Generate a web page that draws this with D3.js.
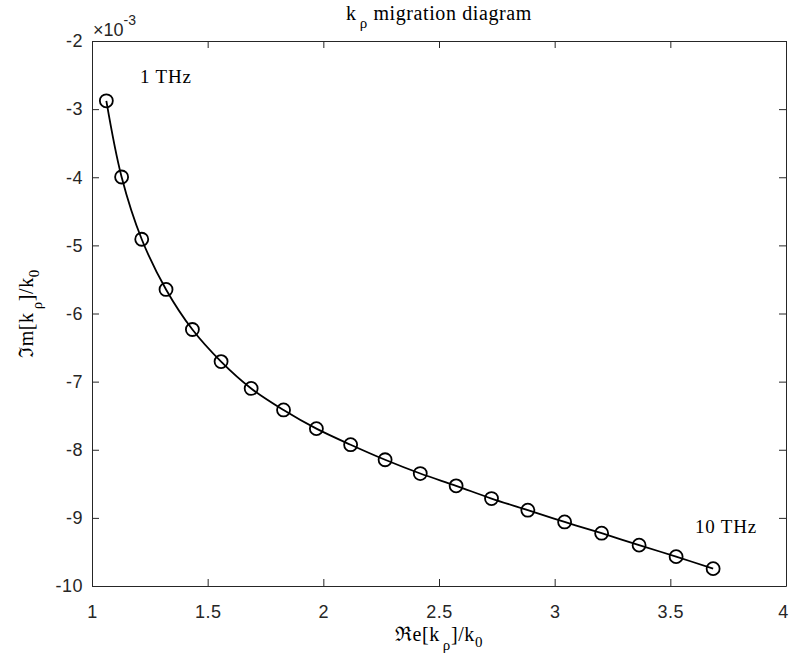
<!DOCTYPE html>
<html>
<head>
<meta charset="utf-8">
<script src="https://cdn.jsdelivr.net/npm/d3@7"></script>
<style>
  html, body { margin: 0; padding: 0; background: #fff; }
  svg { display: block; }
</style>
</head>
<body>
<div id="chart"></div>
<script>
// Re[k_rho]/k0 and Im[k_rho]/k0 (in units of 1e-3), 1 THz .. 10 THz
const reK = [1.062, 1.128, 1.215, 1.320, 1.434, 1.558, 1.688, 1.828, 1.970, 2.118,
             2.267, 2.419, 2.574, 2.727, 2.884, 3.043, 3.203, 3.365, 3.525, 3.685];
const imK = [-2.878, -3.996, -4.910, -5.647, -6.235, -6.706, -7.100, -7.416, -7.690, -7.926,
             -8.147, -8.349, -8.530, -8.716, -8.887, -9.060, -9.225, -9.400, -9.569, -9.745];
const xTicks = [1, 1.5, 2, 2.5, 3, 3.5, 4];
const yTicks = [-2, -3, -4, -5, -6, -7, -8, -9, -10];

const W = 790, H = 665;
const margin = { top: 41, right: 4, bottom: 79, left: 92 };
const width = W - margin.left - margin.right;
const height = H - margin.top - margin.bottom;
const axisColor = "#262626";
const sans = "'Liberation Sans', Arial, sans-serif";
const serif = "'Liberation Serif', 'Times New Roman', serif";

const data = reK.map((d, i) => ({ x: d, y: imK[i] }));

const svg = d3.select("#chart").append("svg")
  .attr("width", W).attr("height", H)
  .attr("viewBox", [0, 0, W, H]);

const g = svg.append("g").attr("transform", `translate(${margin.left},${margin.top})`);

const x = d3.scaleLinear().domain([1, 4]).range([0, width]);
const y = d3.scaleLinear().domain([-10, -2]).range([height, 0]);

// Axes (ticks pointing inward, box on all sides)
const styleAxis = (sel) => {
  sel.select(".domain").attr("stroke", axisColor);
  sel.selectAll(".tick line").attr("stroke", axisColor);
  sel.selectAll("text").attr("fill", axisColor)
    .style("font-family", sans).style("font-size", "18px").style("letter-spacing", "0.5px");
};

g.append("g")
  .attr("transform", `translate(0,${height})`)
  .call(d3.axisBottom(x).tickValues(xTicks).tickFormat(d3.format("")).tickSizeInner(-7).tickSizeOuter(0).tickPadding(19))
  .call(styleAxis)
  // keep the last label inside the window
  .selectAll(".tick text").filter((d) => d === 4).attr("dx", -3);

g.append("g")
  .call(d3.axisTop(x).tickValues(xTicks).tickFormat("").tickSizeInner(-7).tickSizeOuter(0))
  .call(styleAxis);

g.append("g")
  .call(d3.axisLeft(y).tickValues(yTicks).tickFormat((d) => String(d)).tickSizeInner(-7).tickSizeOuter(0).tickPadding(9))
  .call(styleAxis);

g.append("g")
  .attr("transform", `translate(${width},0)`)
  .call(d3.axisRight(y).tickValues(yTicks).tickFormat("").tickSizeInner(-7).tickSizeOuter(0))
  .call(styleAxis);

// Curve
const line = d3.line()
  .x((d) => x(d.x))
  .y((d) => y(d.y))
  .curve(d3.curveCatmullRom.alpha(0.5));

g.append("path")
  .datum(data)
  .attr("fill", "none")
  .attr("stroke", "#000")
  .attr("stroke-width", 1.8)
  .attr("d", line);

// Markers
g.selectAll("circle.pt")
  .data(data)
  .join("circle")
  .attr("class", "pt")
  .attr("cx", (d) => x(d.x))
  .attr("cy", (d) => y(d.y))
  .attr("r", 6.5)
  .attr("fill", "none")
  .attr("stroke", "#000")
  .attr("stroke-width", 1.8);

// Annotations
g.append("text")
  .attr("x", 48).attr("y", 42)
  .style("font-family", serif).style("font-size", "19px").style("letter-spacing", "0.8px")
  .attr("fill", "#000")
  .text("1 THz");

g.append("text")
  .attr("x", 603).attr("y", 492)
  .style("font-family", serif).style("font-size", "19px").style("letter-spacing", "0.8px")
  .attr("fill", "#000")
  .text("10 THz");

// Exponent label
const expo = svg.append("text")
  .attr("x", 93).attr("y", 36)
  .attr("fill", axisColor)
  .style("font-family", sans).style("font-size", "18px");
expo.append("tspan").text("\u00d710");
expo.append("tspan").attr("dy", -11).style("font-size", "14px").text("-3");

// Title
const title = svg.append("text")
  .attr("x", margin.left + width / 2).attr("y", 20)
  .attr("text-anchor", "middle")
  .attr("fill", "#000")
  .style("font-family", serif).style("font-size", "20px").style("letter-spacing", "0.6px");
title.append("tspan").text("k");
title.append("tspan").attr("dx", 3).attr("dy", 8).style("font-size", "15px").text("\u03c1");
title.append("tspan").attr("dy", -8).text(" migration diagram");

// X label
const xl = svg.append("text")
  .attr("x", margin.left + width / 2).attr("y", 641)
  .attr("text-anchor", "middle")
  .attr("fill", "#000")
  .style("font-family", serif).style("font-size", "20px").style("letter-spacing", "0.6px");
xl.append("tspan").text("\u211ce[k");
xl.append("tspan").attr("dx", 3).attr("dy", 9).style("font-size", "15px").text("\u03c1");
xl.append("tspan").attr("dy", -9).text("]/k");
xl.append("tspan").attr("dy", 6).style("font-size", "15px").text("0");

// Y label
const yl = svg.append("text")
  .attr("transform", `translate(33,${margin.top + height / 2}) rotate(-90)`)
  .attr("text-anchor", "middle")
  .attr("fill", "#000")
  .style("font-family", serif).style("font-size", "20px").style("letter-spacing", "0.6px");
yl.append("tspan").text("\u2111m[k");
yl.append("tspan").attr("dx", 3).attr("dy", 9).style("font-size", "15px").text("\u03c1");
yl.append("tspan").attr("dy", -9).text("]/k");
yl.append("tspan").attr("dy", 6).style("font-size", "15px").text("0");
</script>
</body>
</html>
